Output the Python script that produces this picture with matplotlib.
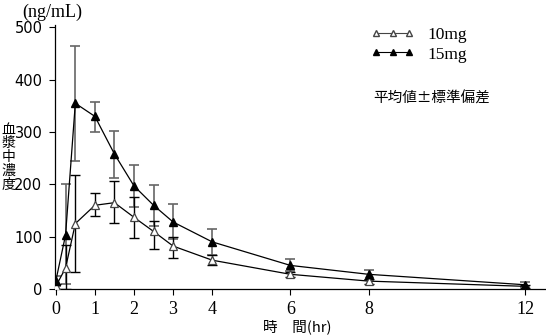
import matplotlib
matplotlib.use('Agg')
import matplotlib.pyplot as plt
from matplotlib.lines import Line2D

# 時間 (hr)
times = [0, 0.25, 0.5, 1, 1.5, 2, 2.5, 3, 4, 6, 8, 12]

# 10mg 平均値 / 上限 / 下限
mean_10 = [5, 40, 125, 160, 165, 137, 110, 82, 55, 28, 15, 5]
upper_10 = [10, 84, 218, 183, 206, 175, 130, 100, 65, 33, 19, 8]
lower_10 = [0, 0, 33, 140, 126, 97, 77, 60, 45, 22, 10, 2]

# 15mg 平均値 / 上限 / 下限
mean_15 = [15, 103, 355, 330, 258, 197, 160, 128, 90, 45, 28, 8]
upper_15 = [25, 200, 465, 357, 302, 237, 198, 162, 115, 57, 37, 13]
lower_15 = [5, 10, 245, 300, 212, 157, 120, 95, 65, 35, 18, 3]

x_ticks = [0, 1, 2, 3, 4, 6, 8, 12]
y_ticks = [0, 100, 200, 300, 400, 500]

serif = ['Liberation Serif', 'DejaVu Serif']
cjk = ['Noto Sans CJK JP', 'DejaVu Sans']

fig = plt.figure(figsize=(5.46, 3.36), dpi=100)
ax = fig.add_axes([0.1007, 0.140, 0.897, 0.786])

# エラーバー
err_10 = [[m - l for m, l in zip(mean_10, lower_10)], [u - m for m, u in zip(mean_10, upper_10)]]
err_15 = [[m - l for m, l in zip(mean_15, lower_15)], [u - m for m, u in zip(mean_15, upper_15)]]
ax.errorbar(times, mean_15, yerr=err_15, fmt='none', ecolor='#666666', elinewidth=1.2, capsize=3.5, capthick=1.2, zorder=2)
ax.errorbar(times, mean_10, yerr=err_10, fmt='none', ecolor='black', elinewidth=1.0, capsize=3.5, capthick=1.0, zorder=2)

# 曲線
ax.plot(times, mean_10, color='black', linewidth=0.9, marker='^', markersize=6,
        markerfacecolor='white', markeredgecolor='#444444', markeredgewidth=0.9, zorder=3)
ax.plot(times, mean_15, color='black', linewidth=0.9, marker='^', markersize=6,
        markerfacecolor='black', markeredgecolor='black', zorder=4)

ax.set_xlim(-0.02, 12.5)
ax.set_ylim(0, 505)
ax.set_xticks(x_ticks)
ax.set_yticks(y_ticks)
ax.set_xticklabels([str(t) for t in x_ticks], fontfamily=serif, fontsize=13)
ax.set_yticklabels([str(t) for t in y_ticks], fontsize=10.5)
ax.tick_params(axis='x', direction='out', length=4, width=0.8, pad=5)
ax.tick_params(axis='y', direction='out', length=4, width=0.8, pad=5)
ax.spines['top'].set_visible(False)
ax.spines['right'].set_visible(False)
for s in ['left', 'bottom']:
    ax.spines[s].set_linewidth(0.9)

# 凡例
handles = [
    Line2D([0], [0], color='#444444', linewidth=0.8, marker='^', markersize=4,
           markerfacecolor='white', markeredgecolor='#444444'),
    Line2D([0], [0], color='black', linewidth=0.8, marker='^', markersize=4,
           markerfacecolor='black'),
]
leg = ax.legend(handles, ['10mg', '15mg'], loc='center left', bbox_to_anchor=(0.645, 0.925),
                frameon=False, prop={'family': serif, 'size': 12.5}, handlelength=2.5,
                handletextpad=0.75, labelspacing=0.2, numpoints=3, borderpad=0, borderaxespad=0)

fig.text(0.683, 0.708, '平均値±標準偏差', family=cjk, fontsize=10.5, ha='left', va='center')

# 軸ラベル
fig.text(0.040, 0.962, '(ng/mL)', family=serif, fontsize=13, ha='left', va='center')
fig.text(0.016, 0.532, '血\n漿\n中\n濃\n度', family=cjk, fontsize=10, ha='center', va='center',
         linespacing=0.98)
fig.text(0.481, 0.006, '時　間(hr)', family=cjk, fontsize=10.5, ha='left', va='bottom')

fig.savefig('out.png', dpi=100)
